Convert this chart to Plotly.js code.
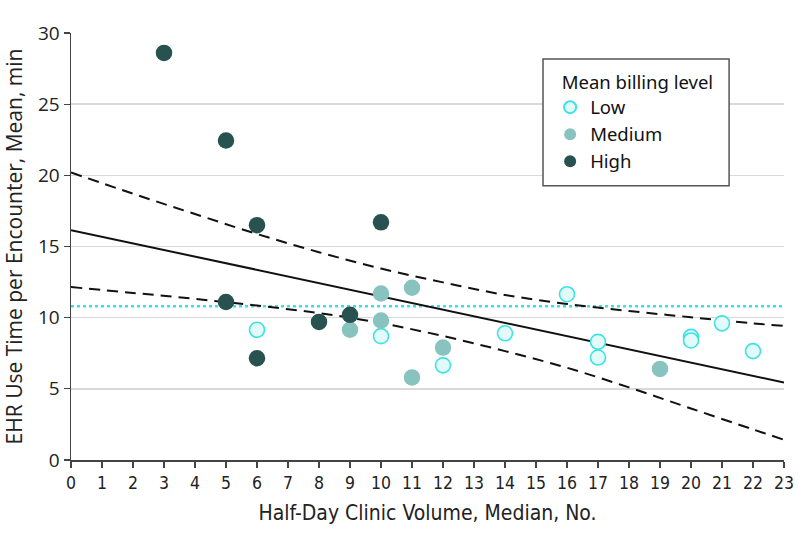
<!DOCTYPE html>
<html>
<head>
<meta charset="utf-8">
<script src="https://cdn.plot.ly/plotly-3.0.1.min.js"></script>
<style>html,body{margin:0;padding:0;background:#fff;}#chart{width:798px;height:546px;}</style>
</head>
<body>
<div id="chart"></div>
<script>
// Points by mean billing level
const lowX = [6, 10, 12, 14, 16, 17, 17, 20, 20, 21, 22];
const lowY = [9.15, 8.7, 6.65, 8.9, 11.65, 8.3, 7.2, 8.65, 8.4, 9.6, 7.65];
const medX = [9, 10, 10, 11, 11, 12, 19];
const medY = [9.15, 11.7, 9.8, 12.1, 5.8, 7.9, 6.4];
const highX = [3, 5, 5, 6, 6, 8, 9, 10];
const highY = [28.6, 22.45, 11.1, 16.5, 7.15, 9.7, 10.2, 16.7];

// Fitted line and 95% CI
const fitX = [0, 23];
const fitY = [16.15, 5.45];
const ciX = [0, 2, 4, 6, 8, 10, 12, 14, 16, 18, 20, 22, 23];
const ciUpper = [20.2, 18.71, 17.28, 15.88, 14.6, 13.45, 12.48, 11.6, 10.96, 10.47, 10.03, 9.6, 9.42];
const ciLower = [12.15, 11.74, 11.32, 10.85, 10.32, 9.62, 8.71, 7.65, 6.48, 5.1, 3.62, 2.15, 1.42];

// Reference (mean) line
const refX = [0, 23];
const refY = [10.8, 10.8];

const xTicks = [0,1,2,3,4,5,6,7,8,9,10,11,12,13,14,15,16,17,18,19,20,21,22,23];
const yTicks = [0, 5, 10, 15, 20, 25, 30];

const legendFont = {family: 'Noto Sans, Open Sans, sans-serif', size: 18.5, color: '#111'};

const traces = [
  {x: refX, y: refY, mode: 'lines', line: {color: '#38e2e2', width: 2.5, dash: 'dot'}, showlegend: false, hoverinfo: 'skip'},
  {x: ciX, y: ciUpper, mode: 'lines', line: {color: '#111', width: 2, dash: '11px,7px', shape: 'spline'}, showlegend: false, hoverinfo: 'skip'},
  {x: ciX, y: ciLower, mode: 'lines', line: {color: '#111', width: 2, dash: '11px,7px', shape: 'spline'}, showlegend: false, hoverinfo: 'skip'},
  {x: fitX, y: fitY, mode: 'lines', line: {color: '#111', width: 2}, showlegend: false, hoverinfo: 'skip'},
  {x: lowX, y: lowY, mode: 'markers', name: 'Low',
   marker: {size: 15, color: '#e2fafa', line: {color: '#3de2e2', width: 1.6}}},
  {x: medX, y: medY, mode: 'markers', name: 'Medium',
   marker: {size: 16.5, color: '#88c3c0', line: {width: 0}}},
  {x: highX, y: highY, mode: 'markers', name: 'High',
   marker: {size: 16.5, color: '#28524f', line: {width: 0}}}
];

const layout = {
  width: 798, height: 546,
  margin: {l: 71, r: 14, t: 33, b: 86},
  paper_bgcolor: '#fff', plot_bgcolor: '#fff',
  showlegend: true,
  shapes: [
    {type: 'rect', xref: 'paper', yref: 'paper', x0: 0.662, x1: 0.923, y0: 0.642, y1: 0.939,
     fillcolor: '#fff', line: {color: '#555', width: 1.5}, layer: 'above'}
  ],
  legend: {
    x: 0.672, y: 0.926, xanchor: 'left', yanchor: 'top',
    bgcolor: 'rgba(0,0,0,0)', borderwidth: 0,
    font: legendFont,
    title: {text: '&nbsp;&nbsp;Mean billing level', font: legendFont},
    itemsizing: 'constant'
  },
  xaxis: {
    range: [0, 23], tickvals: xTicks, ticktext: xTicks.map(String),
    showgrid: false, zeroline: false,
    showline: true, linecolor: '#444', linewidth: 1.5,
    ticks: 'outside', ticklen: 6, tickcolor: '#444', tickwidth: 1.2,
    tickfont: {family: 'DejaVu Sans Condensed, DejaVu Sans, sans-serif', size: 17.5, color: '#222'},
    title: {text: 'Half-Day Clinic Volume, Median, No.', standoff: 14,
            font: {family: 'DejaVu Sans Condensed, DejaVu Sans, sans-serif', size: 21, color: '#222'}},
    fixedrange: true
  },
  yaxis: {
    range: [0, 30], tickvals: yTicks, ticktext: yTicks.map(String),
    showgrid: true, gridcolor: '#d9d9d9', gridwidth: 1.5, zeroline: false,
    showline: true, linecolor: '#444', linewidth: 1.5,
    ticks: 'outside', ticklen: 6, tickcolor: '#444', tickwidth: 1.2,
    tickfont: {family: 'Open Sans, Noto Sans, sans-serif', size: 19, color: '#222'},
    title: {text: 'EHR Use Time per Encounter, Mean, min', standoff: 9,
            font: {family: 'Open Sans, Noto Sans, sans-serif', size: 21, color: '#222'}},
    fixedrange: true
  }
};

Plotly.newPlot('chart', traces, layout, {displayModeBar: false, staticPlot: true});
</script>
</body>
</html>
